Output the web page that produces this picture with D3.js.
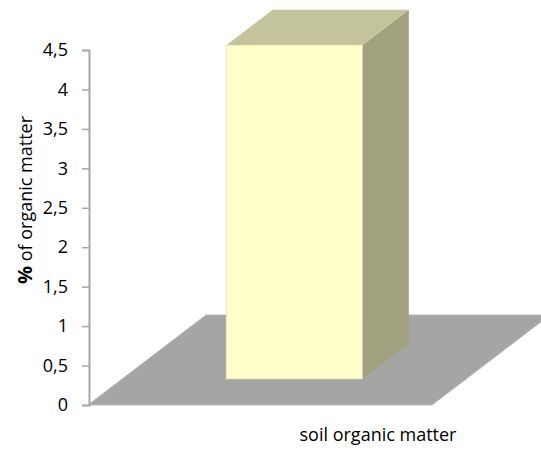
<!DOCTYPE html>
<html>
<head>
<meta charset="utf-8">
<script src="https://cdn.jsdelivr.net/npm/d3@7"></script>
<style>
  html, body { margin: 0; padding: 0; background: #fff; }
  svg { display: block; font-family: "Open Sans", "Liberation Sans", sans-serif; }
</style>
</head>
<body>
<svg id="chart" width="541" height="450"></svg>
<script>
// ---- data ----
const categories = ["soil organic matter"];
const values = [4.23];
const yTicks = [0, 0.5, 1, 1.5, 2, 2.5, 3, 3.5, 4, 4.5];
const yTitleBold = "%";
const yTitleRest = " of organic matter";

// ---- layout ----
const svg = d3.select("#chart");
const plotL = 88, plotR = 432, plotT = 50, plotB = 405;
const depthDX = 118, depthDY = -90;   // full floor depth offset (oblique projection)
const barDepth = [0.29, 0.685];         // bar front/back depth fractions

const x = d3.scaleBand().domain(categories).range([plotL, plotR]).paddingInner(0).paddingOuter(0.765);
const y = d3.scaleLinear().domain([0, 4.5]).range([plotB, plotT]);
const dz = d3.scaleLinear().domain([0, 1]).range([0, 1]);
const off = d => [dz(d) * depthDX, dz(d) * depthDY];

// floor
const f0 = off(0), f1 = off(1);
svg.append("path")
  .attr("d", `M${plotL + f0[0]},${y(0) + f0[1]} L${plotR + f0[0]},${y(0) + f0[1]} L${plotR + f1[0]},${y(0) + f1[1]} L${plotL + f1[0]},${y(0) + f1[1]} Z`)
  .attr("fill", "#a5a5a5")
  .attr("stroke", "#b8b8b8")
  .attr("stroke-width", 1);

// bars
categories.forEach((c, i) => {
  const v = values[i];
  const [fx, fy] = off(barDepth[0]);
  const [bx, by] = off(barDepth[1]);
  const x0 = x(c) + fx, x1 = x(c) + x.bandwidth() + fx;
  const yTop = y(v) + fy, yBot = y(0) + fy;
  const ddx = bx - fx, ddy = by - fy;
  const g = svg.append("g");
  g.append("path")
    .attr("d", `M${x1},${yTop} L${x1 + ddx},${yTop + ddy} L${x1 + ddx},${yBot + ddy} L${x1},${yBot} Z`)
    .attr("fill", "#a2a17e");
  g.append("path")
    .attr("d", `M${x0},${yTop} L${x0 + ddx},${yTop + ddy} L${x1 + ddx},${yTop + ddy} L${x1},${yTop} Z`)
    .attr("fill", "#c3c39c");
  g.append("rect")
    .attr("x", x0).attr("y", yTop)
    .attr("width", x1 - x0).attr("height", yBot - yTop)
    .attr("fill", "#ffffcc")
    .attr("stroke", "#e6e6b4").attr("stroke-width", 0.8);
});

// y axis
const yAxis = d3.axisLeft(y)
  .tickValues(yTicks)
  .tickSize(7)
  .tickPadding(14)
  .tickFormat(d => String(d).replace(".", ","));
const ax = svg.append("g").attr("transform", `translate(${plotL + 1},0)`).call(yAxis);
ax.select(".domain").attr("stroke", "#a8a8a8").attr("stroke-width", 2);
ax.selectAll(".tick line").attr("stroke", "#a8a8a8").attr("stroke-width", 1.5);
ax.selectAll(".tick text")
  .attr("fill", "#000")
  .style("font-size", "18px")
  .style("font-family", "'Open Sans', sans-serif");

// y title
const yt = svg.append("text")
  .attr("transform", `translate(32,200) rotate(-90)`)
  .attr("text-anchor", "middle")
  .style("font-size", "18px")
  .attr("fill", "#000");
yt.append("tspan").style("font-weight", "bold").style("font-size", "20px").text(yTitleBold);
yt.append("tspan").text(yTitleRest);

// x category label
categories.forEach(c => {
  svg.append("text")
    .attr("x", x(c) + x.bandwidth() / 2 + off(1)[0])
    .attr("y", 441)
    .attr("text-anchor", "middle")
    .style("font-size", "18px")
    .attr("fill", "#000")
    .text(c);
});
</script>
</body>
</html>
